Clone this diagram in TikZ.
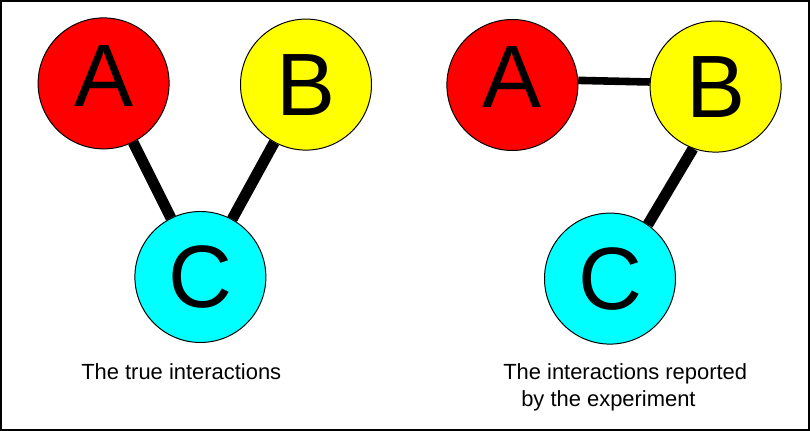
\documentclass[tikz,border=0pt]{standalone}
\usepackage{fontspec}
\setmainfont{Liberation Sans}
\definecolor{aqua}{RGB}{0,255,255}
\definecolor{pureyellow}{RGB}{255,255,0}
\definecolor{purered}{RGB}{255,0,0}

\begin{document}
\begin{tikzpicture}
    \tikzstyle{protein} = [draw,circle,line width=0.7pt,minimum size=3.275cm,inner sep=0pt,font=\fontsize{63}{63}\selectfont]
    \tikzstyle{strong} = [line width=7.8pt]
    \tikzstyle{weak} = [line width=5.4pt]
    \tikzstyle{caption} = [anchor=base west,inner sep=0pt,font=\fontsize{15.6}{18}\selectfont]
      \useasboundingbox (0,0) rectangle (20.25,10.775);
      \draw[line width=1.4pt] (0.025,0.025) rectangle (20.225,10.75);
      % true interactions
      \node[protein,fill=purered,text depth=11pt] (trueA) at (2.59,8.69) {A};
      \node[protein,fill=pureyellow] (trueB) at (7.65,8.66) {B};
      \node[protein,fill=aqua] (trueC) at (5.01,3.85) {C};
      \draw[strong] (trueA) -- (trueC);
      \draw[strong] (trueB) -- (trueC);
      \node[caption] (trueText) at (2.025,1.275) {The true interactions};
      % reported interactions
      \node[protein,fill=purered,text depth=11pt] (repA) at (12.81,8.65) {A};
      \node[protein,fill=pureyellow] (repB) at (17.89,8.61) {B};
      \node[protein,fill=aqua] (repC) at (15.25,3.81) {C};
      \draw[weak] (repA.4) -- (repB.176);
      \draw[strong] (repB.250) -- (repC.55);
      \node[caption] (repText) at (12.575,1.275) {The interactions reported};
      \node[caption] (repText2) at (13.025,0.6) {by the experiment};
  \end{tikzpicture}
\end{document}
